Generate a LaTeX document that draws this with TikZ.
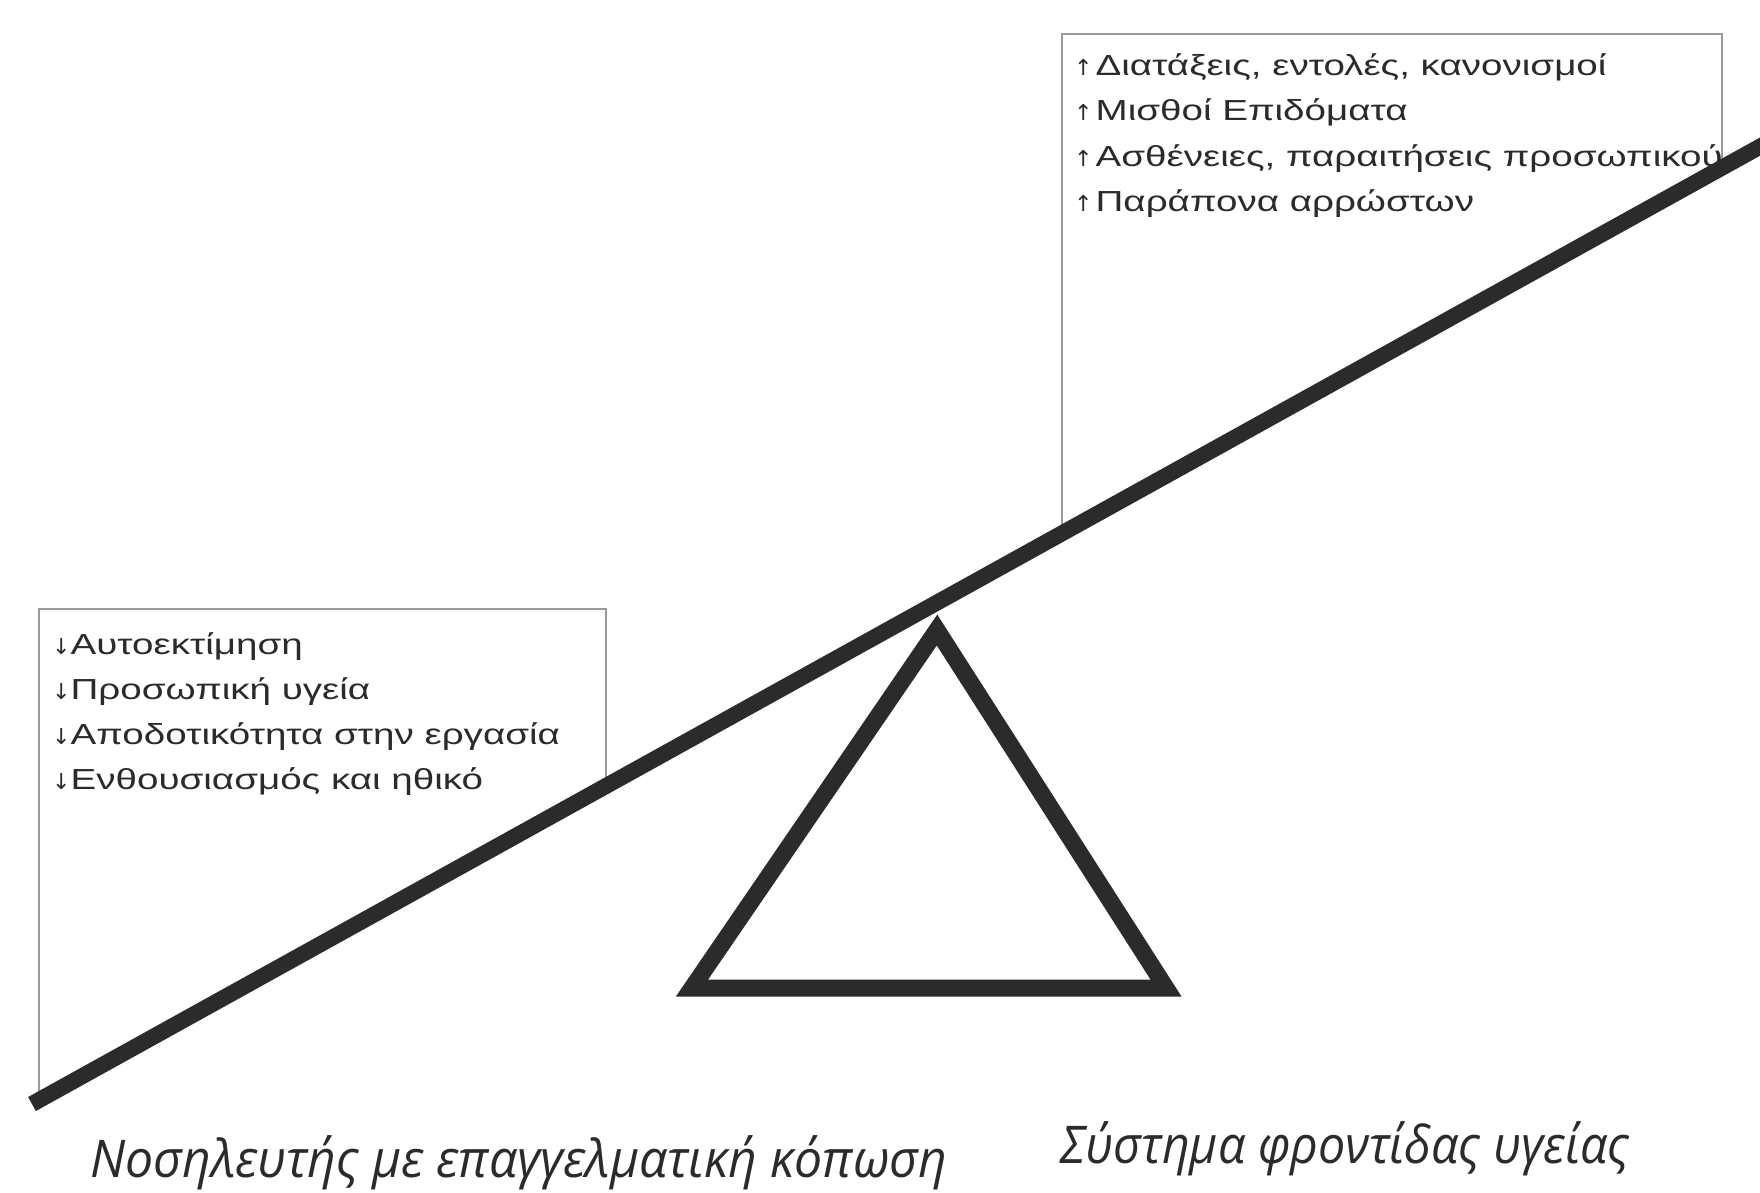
\documentclass[tikz,border=0pt]{standalone}
\usepackage{fontspec}
\setmainfont{Liberation Sans}
\newfontfamily\itemfont{Liberation Sans}[FakeStretch=1.33]
\newfontfamily\arrowfont{DejaVu Sans}
\newfontfamily\capfont{Open Sans}[FakeStretch=0.96]
\newfontfamily\capfontb{Open Sans}[FakeStretch=0.93]
\definecolor{ink}{HTML}{2B2B2B}
\definecolor{boxgrey}{HTML}{9A9A9A}
\tikzset{
  beamline/.style={draw=ink, line width=16pt},
  fulcrum/.style={draw=ink, line width=17pt, line join=miter},
  framebox/.style={draw=boxgrey, line width=2.2pt},
  item/.style={anchor=base west, inner sep=0pt, text=ink, font=\itemfont\fontsize{29}{29}\selectfont},
  caption/.style={anchor=base west, inner sep=0pt, text=ink, font=\capfont\itshape\fontsize{52}{52}\selectfont},
  captionb/.style={caption, font=\capfontb\itshape\fontsize{52}{52}\selectfont}
}
\newcommand{\upar}{{\arrowfont\fontsize{22}{22}\selectfont ↑}}
\newcommand{\dnar}{{\arrowfont\fontsize{22}{22}\selectfont ↓}}
\begin{document}
\begin{tikzpicture}[x=1pt,y=-1pt]
\useasboundingbox[fill=white] (0,0) rectangle (1760,1192);
% frames
\draw[framebox] (39,1100) -- (39,609) -- (606,609) -- (606,785);
\draw[framebox] (1062,531) -- (1062,34) -- (1722,34) -- (1722,164);
% fulcrum
\draw[fulcrum] (937,630) -- (1166,988) -- (692,988) -- cycle;
% beam
\coordinate (bl) at (32,1104);
\coordinate (br) at (1790,130);
\draw[beamline] (bl) -- (br);
% right box items
\node[item] (r1) at (1074,75) {\upar\hspace{3pt}Διατάξεις, εντολές, κανονισμοί};
\node[item] (r2) at (1074,120) {\upar\hspace{3pt}Μισθοί Επιδόματα};
\node[item] (r3) at (1074,166) {\upar\hspace{3pt}Ασθένειες, παραιτήσεις προσωπικού};
\node[item] (r4) at (1074,211) {\upar\hspace{3pt}Παράπονα αρρώστων};
% left box items
\node[item] (l1) at (52,654) {\dnar Αυτοεκτίμηση};
\node[item] (l2) at (52,699) {\dnar Προσωπική υγεία};
\node[item] (l3) at (52,744) {\dnar Αποδοτικότητα στην εργασία};
\node[item] (l4) at (52,789) {\dnar Ενθουσιασμός και ηθικό};
% captions
\node[caption] (c1) at (90,1177) {Νοσηλευτής με επαγγελματική κόπωση};
\node[captionb] (c2) at (1060,1163) {Σύστημα φροντίδας υγείας};
\end{tikzpicture}
\end{document}
